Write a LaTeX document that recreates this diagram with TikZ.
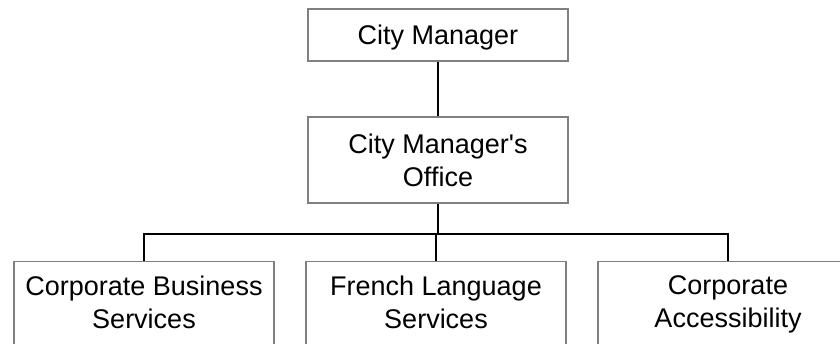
\documentclass[tikz,border=0pt]{standalone}
\usepackage{fontspec}
\setmainfont{Liberation Sans}
\usepackage{xcolor}
\usepackage{tikz}
\usetikzlibrary{positioning, calc}

\definecolor{boxgray}{RGB}{128,128,128}

\begin{document}
\begin{tikzpicture}[x=1pt, y=-1pt,
    every node/.style={font=\fontsize{27}{33}\selectfont},
    unit/.style={draw=boxgray, line width=1.5pt, fill=white, rectangle, minimum width=260pt, inner sep=0pt},
    unittext/.style={align=center, inner sep=0pt, anchor=north},
    link/.style={draw=black, line width=1.1pt}]
    \clip (0,0) rectangle (840,344);
    \fill[white] (0,0) rectangle (840,344);

    % Top of the chart
    \node[unit, minimum height=52pt, text height=20pt, text depth=0pt] (cm) at (438,35) {City Manager};
    \node[unit, minimum height=86pt, align=center] (cmo) at (438,160) {City Manager\textquotesingle s\\Office};
    \draw[link] (cm.south) -- (cmo.north);

    % Branches
    \node[unit, minimum height=120pt, anchor=north] (cbs) at (144,261) {};
    \node[unittext] at (144,275.5) {Corporate Business\\Services};

    \node[unit, minimum height=120pt, anchor=north] (fls) at (436,261) {};
    \node[unittext] at (436,275.5) {French Language\\Services};

    \node[unit, minimum height=120pt, anchor=north] (ca) at (728,261) {};
    \node[unittext] at (728,275.5) {Corporate\\Accessibility};

    \coordinate (bus) at (438,234);
    \draw[link] (cmo.south) -- (bus);
    \draw[link] (cbs.north) |- (bus) -| (ca.north);
    \draw[link] (fls.north) -- (fls.north |- bus);
\end{tikzpicture}
\end{document}
